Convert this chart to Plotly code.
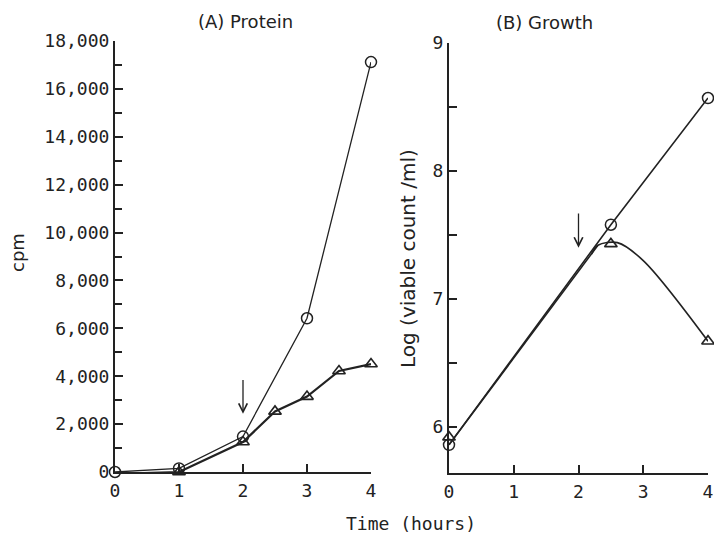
import plotly.graph_objects as go

# Panel A: protein synthesis (cpm) vs time (hours)
prot_t_circ = [0, 1, 2, 3, 4]
prot_circ = [0, 150, 1480, 6420, 17120]
prot_t_tri = [0, 1, 2, 2.5, 3, 3.5, 4]
prot_tri = [-80, 0, 1250, 2530, 3150, 4220, 4510]

# Panel B: growth, log(viable count/ml) vs time (hours)
grow_t_circ = [0, 2.5, 4]
grow_circ = [5.86, 7.58, 8.57]
grow_t_tri = [0, 2.5, 4]
grow_tri = [5.92, 7.43, 6.67]
# hand-drawn curve: follows the control line, then bends down through the triangles
curve_line_t = [0, 2.3]
curve_line_v = [5.86, 7.42]
curve_bend_t = [2.2, 2.3, 2.6, 3.0, 4]
curve_bend_v = [7.35, 7.42, 7.44, 7.30, 6.67]

# time of addition (arrows)
arrow_t = 2

mono = "DejaVu Sans Mono"
sans = "DejaVu Sans"
ink = "#222222"

fig = go.Figure()

# Panel A traces
fig.add_trace(go.Scatter(x=prot_t_circ, y=prot_circ, mode="lines+markers",
                         line=dict(color=ink, width=1.3),
                         marker=dict(symbol="circle-open", size=11, color=ink, line=dict(width=1.5)),
                         cliponaxis=False, xaxis="x", yaxis="y", showlegend=False))
fig.add_trace(go.Scatter(x=prot_t_tri, y=prot_tri, mode="lines+markers",
                         line=dict(color=ink, width=2.2),
                         marker=dict(symbol="triangle-up-open", size=11, color=ink, line=dict(width=1.6)),
                         cliponaxis=False, xaxis="x", yaxis="y", showlegend=False))

# Panel B traces
fig.add_trace(go.Scatter(x=curve_line_t, y=curve_line_v, mode="lines",
                         line=dict(color=ink, width=1.6),
                         cliponaxis=False, xaxis="x2", yaxis="y2", showlegend=False))
fig.add_trace(go.Scatter(x=curve_bend_t, y=curve_bend_v, mode="lines",
                         line=dict(color=ink, width=1.6, shape="spline", smoothing=0.9),
                         cliponaxis=False, xaxis="x2", yaxis="y2", showlegend=False))
fig.add_trace(go.Scatter(x=grow_t_tri, y=grow_tri, mode="markers",
                         marker=dict(symbol="triangle-up-open", size=11, color=ink, line=dict(width=1.6)),
                         cliponaxis=False, xaxis="x2", yaxis="y2", showlegend=False))
fig.add_trace(go.Scatter(x=grow_t_circ, y=grow_circ, mode="lines+markers",
                         line=dict(color=ink, width=1.6),
                         marker=dict(symbol="circle-open", size=11, color=ink, line=dict(width=1.5)),
                         cliponaxis=False, xaxis="x2", yaxis="y2", showlegend=False))

axis_common = dict(showline=True, linecolor=ink, linewidth=2, ticks="inside",
                   tickcolor=ink, tickwidth=2, ticklen=8, showgrid=False, zeroline=False,
                   automargin=False,
                   tickfont=dict(family=mono, size=18, color=ink))

fig.update_layout(
    width=714, height=535,
    margin=dict(l=0, r=0, t=0, b=0, autoexpand=False),
    paper_bgcolor="white", plot_bgcolor="white",
    xaxis=dict(domain=[115/714, 371/714], range=[0, 4], tickvals=[0, 1, 2, 3, 4],
               ticklabelstandoff=1, anchor="y", **axis_common),
    yaxis=dict(domain=[1 - 472/535, 1 - 41/535], range=[0, 18000],
               tickvals=list(range(0, 18001, 2000)), tickformat=",d", ticklabelstandoff=0,
               minor=dict(dtick=1000, ticks="inside", ticklen=7, tickwidth=2, tickcolor=ink),
               anchor="x", **axis_common),
    xaxis2=dict(domain=[449/714, 708/714], range=[0, 4], tickvals=[0, 1, 2, 3, 4],
                ticklabelstandoff=1, anchor="y2", **axis_common),
    yaxis2=dict(domain=[1 - 473/535, 1 - 43/535], range=[5.64, 9],
                tickvals=[6, 7, 8, 9], ticklabelstandoff=0,
                minor=dict(tickvals=[6.5, 7.5, 8.5], ticks="inside", ticklen=8, tickwidth=2, tickcolor=ink),
                anchor="x2", **axis_common),
    annotations=[
        dict(text="(A) Protein", x=245/714, y=1 - 21/535, xref="paper", yref="paper",
             xanchor="center", yanchor="middle",
             showarrow=False, font=dict(family=sans, size=18, color=ink)),
        dict(text="(B) Growth", x=544/714, y=1 - 22/535, xref="paper", yref="paper",
             xanchor="center", yanchor="middle",
             showarrow=False, font=dict(family=sans, size=18, color=ink)),
        dict(text="cpm", x=17/714, y=1 - 253/535, xref="paper", yref="paper", textangle=-90,
             xanchor="center", yanchor="middle",
             showarrow=False, font=dict(family=sans, size=18, color=ink)),
        dict(text="Log (viable count /ml)", x=408/714, y=1 - 259/535, xref="paper", yref="paper",
             xanchor="center", yanchor="middle",
             textangle=-90, showarrow=False, font=dict(family=sans, size=20, color=ink)),
        dict(text="Time (hours)", x=411/714, y=1 - 523/535, xref="paper", yref="paper",
             xanchor="center", yanchor="middle",
             showarrow=False, font=dict(family=mono, size=18, color=ink)),
        dict(text="", x=arrow_t, y=2430, ax=arrow_t, ay=3900, xref="x", yref="y",
             axref="x", ayref="y", showarrow=True, arrowhead=5, arrowsize=1.3,
             arrowwidth=1.3, arrowcolor=ink),
        dict(text="", x=arrow_t, y=7.40, ax=arrow_t, ay=7.68, xref="x2", yref="y2",
             axref="x2", ayref="y2", showarrow=True, arrowhead=5, arrowsize=1.3,
             arrowwidth=1.3, arrowcolor=ink),
    ],
)

fig.write_html("out.html")
